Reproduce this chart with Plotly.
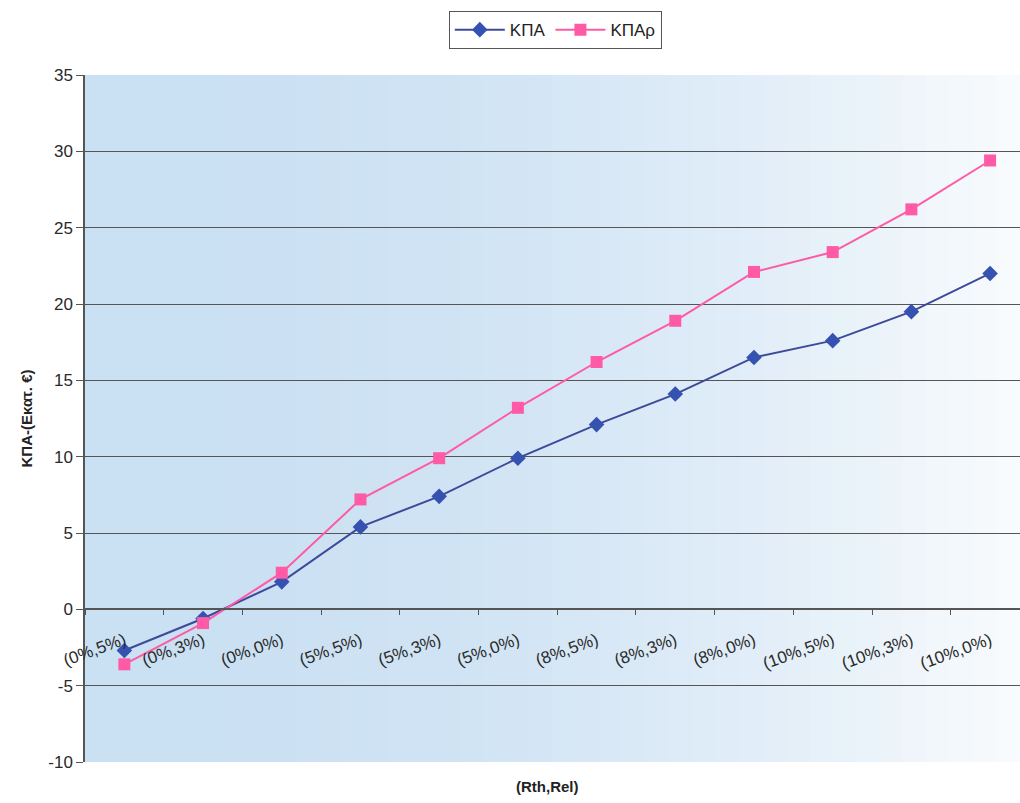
import plotly.graph_objects as go

# Scenario labels (Rth, Rel) and net present values in millions of euros
categories = ["(0%,5%)", "(0%,3%)", "(0%,0%)", "(5%,5%)", "(5%,3%)", "(5%,0%)",
              "(8%,5%)", "(8%,3%)", "(8%,0%)", "(10%,5%)", "(10%,3%)", "(10%,0%)"]
kpa = [-2.7, -0.6, 1.8, 5.4, 7.4, 9.9, 12.1, 14.1, 16.5, 17.6, 19.5, 22.0]
kpa_r = [-3.6, -0.9, 2.4, 7.2, 9.9, 13.2, 16.2, 18.9, 22.1, 23.4, 26.2, 29.4]
y_ticks = [-10, -5, 0, 5, 10, 15, 20, 25, 30, 35]

fig = go.Figure()
fig.add_trace(go.Scatter(
    x=categories, y=kpa, name="ΚΠΑ", mode="lines+markers",
    line=dict(color="#3d4a9c", width=2),
    marker=dict(symbol="diamond", size=12, color="#3552b0"),
))
fig.add_trace(go.Scatter(
    x=categories, y=kpa_r, name="ΚΠΑρ", mode="lines+markers",
    line=dict(color="#ff5aa5", width=2),
    marker=dict(symbol="square", size=12, color="#ff5aa5"),
))

# Horizontal light-blue wash behind the plot area
n_strips = 40
c0 = (202, 224, 243)
c1 = (248, 251, 253)
shapes = []
for i in range(n_strips):
    t = (i / (n_strips - 1)) ** 2.0
    r = int(c0[0] + (c1[0] - c0[0]) * t)
    g = int(c0[1] + (c1[1] - c0[1]) * t)
    b = int(c0[2] + (c1[2] - c0[2]) * t)
    shapes.append(dict(
        type="rect", xref="x domain", yref="y domain",
        x0=i / n_strips, x1=(i + 1) / n_strips + 0.002, y0=0, y1=1,
        fillcolor=f"rgb({r},{g},{b})", line=dict(width=0), layer="below",
    ))

font = "Arial, Liberation Sans, sans-serif"

fig.update_layout(
    width=1020, height=803,
    margin=dict(l=85, r=0, t=75, b=41),
    paper_bgcolor="white",
    plot_bgcolor="white",
    shapes=shapes,
    font=dict(family=font, size=16, color="#2a2a2a"),
    showlegend=True,
    legend=dict(
        orientation="h", x=0.503, xanchor="center", y=1.093, yanchor="top",
        bordercolor="#555555", borderwidth=1, bgcolor="white",
        font=dict(size=17, color="#222222"),
        itemwidth=50, tracegroupgap=0,
    ),
    xaxis=dict(
        type="category",
        range=[-0.5, 11.38],
        anchor="free", position=10 / 45,
        showline=True, linecolor="#555555", linewidth=1.5,
        showgrid=False, zeroline=False,
        ticks="outside", ticklen=5, tickcolor="#555555",
        tickson="boundaries",
        tickangle=-20, ticklabelstandoff=14,
        tickfont=dict(size=17, color="#2a2a2a"),
    ),
    yaxis=dict(
        range=[-10, 35], tickmode="array", tickvals=y_ticks,
        ticktext=[str(v) for v in y_ticks],
        showgrid=True, gridcolor="#555555", gridwidth=1.4,
        zeroline=False,
        showline=True, linecolor="#555555", linewidth=1.5,
        ticks="outside", ticklen=7, tickcolor="#555555",
        tickfont=dict(size=17, color="#2a2a2a"),
        title=dict(text="<b>ΚΠΑ-(Εκατ. €)</b>", font=dict(size=15, color="#222222"),
                   standoff=12),
    ),
    annotations=[dict(
        text="<b>(Rth,Rel)</b>", xref="paper", yref="paper",
        x=0.495, y=-0.036, yanchor="middle", showarrow=False,
        font=dict(size=15, color="#222222"),
    )],
)

fig.write_html("out.html")
